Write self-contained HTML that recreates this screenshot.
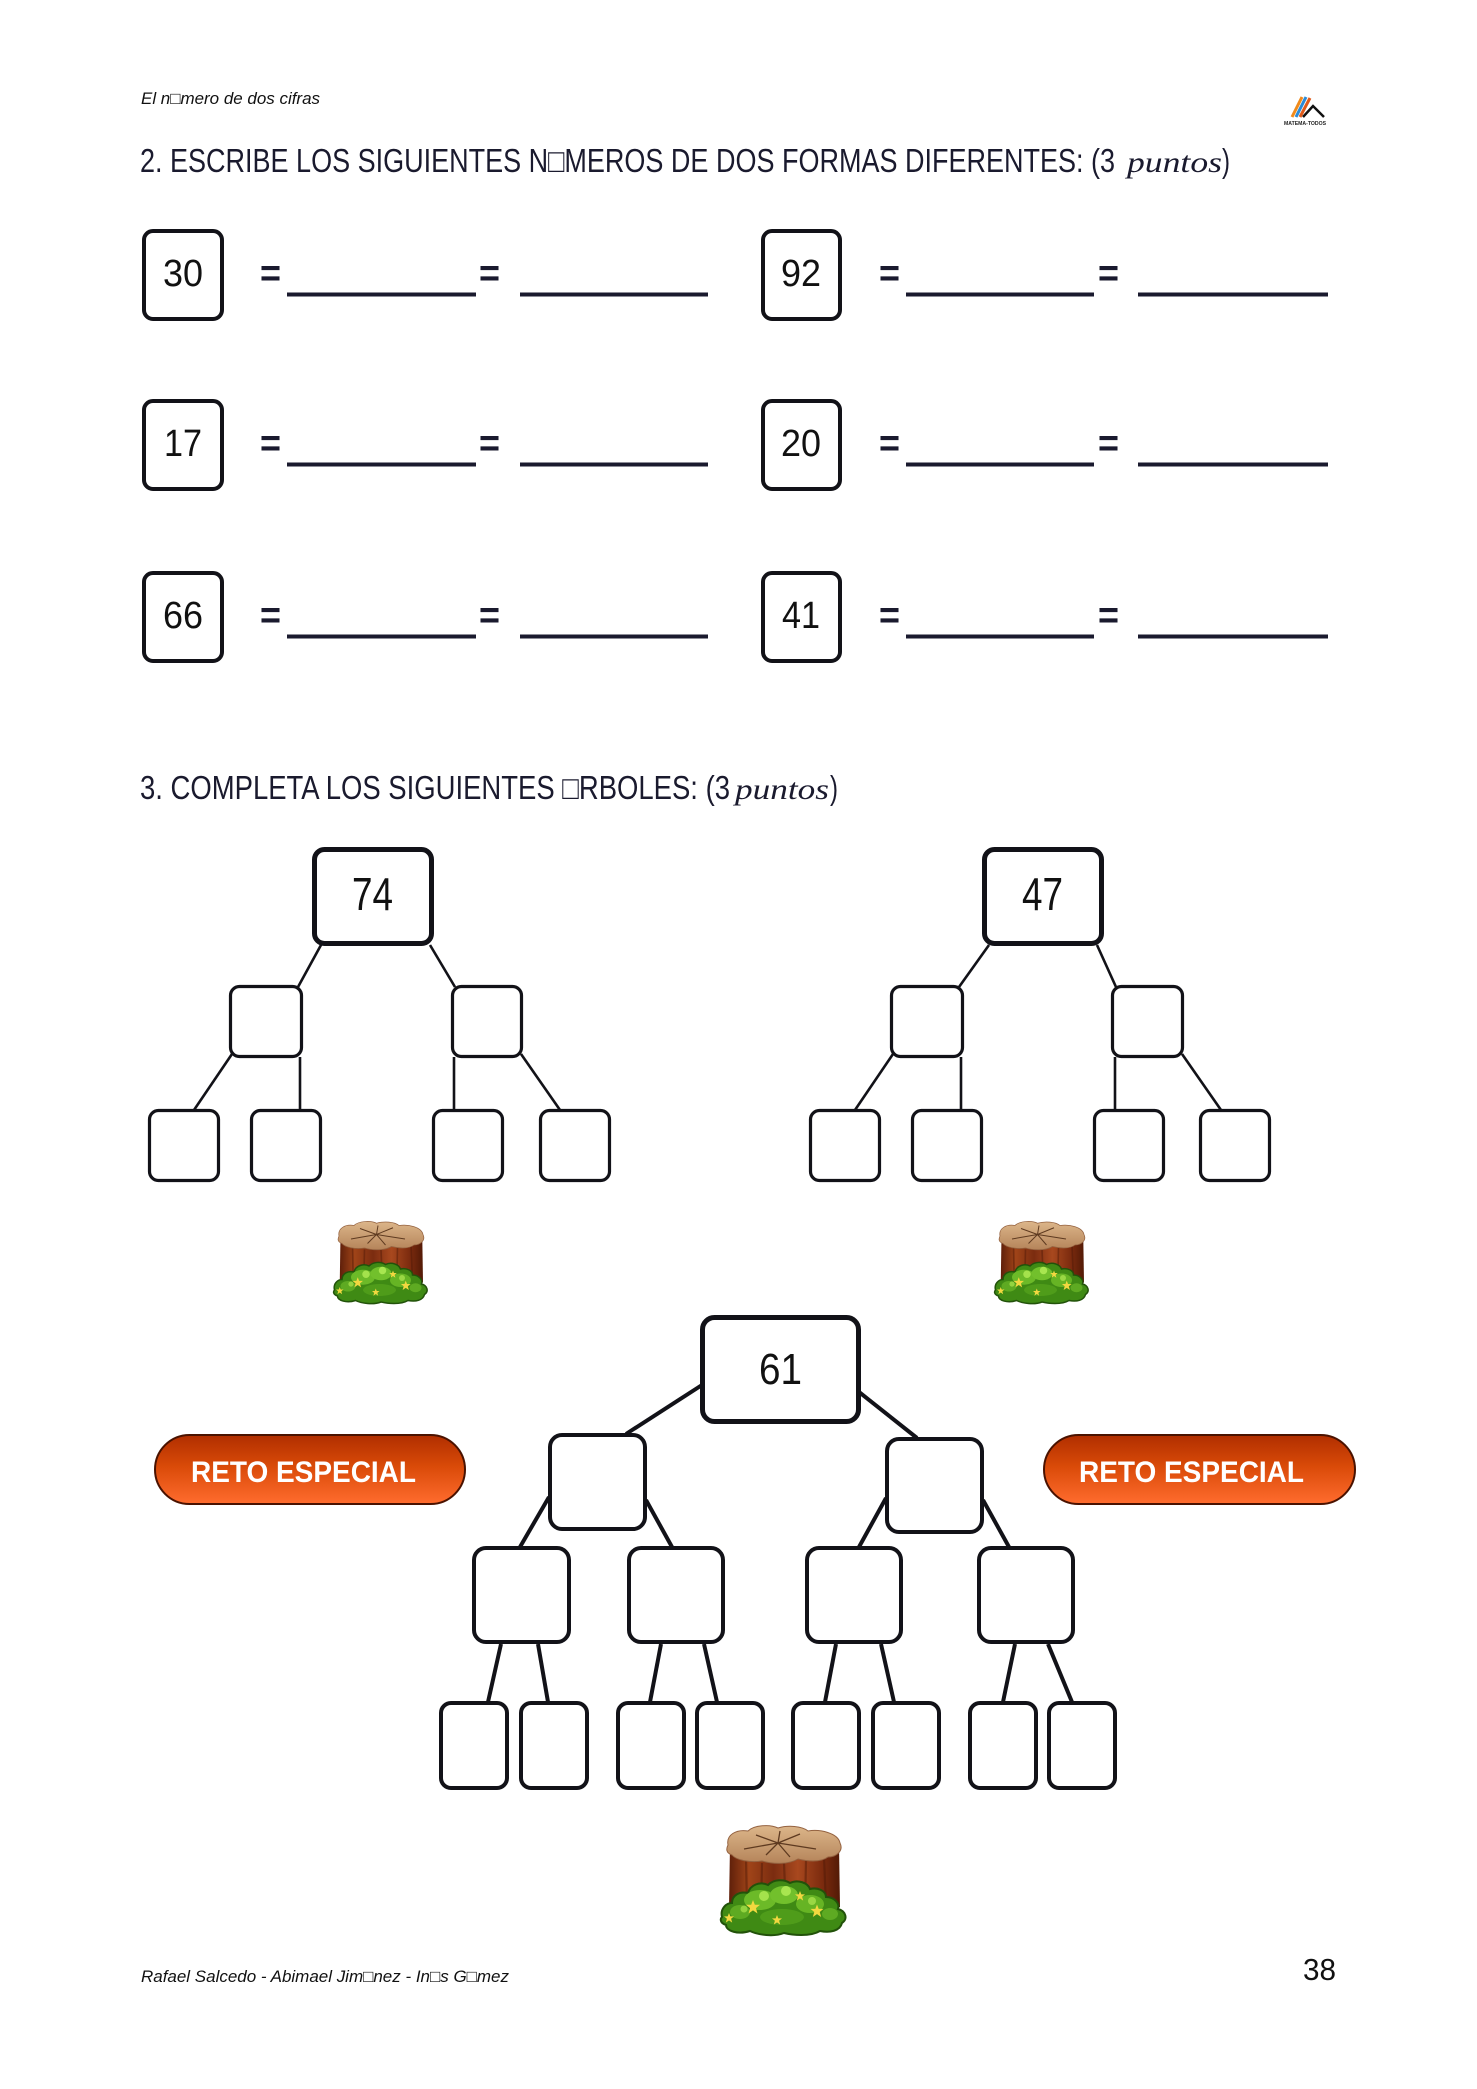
<!DOCTYPE html>
<html>
<head>
<meta charset="utf-8">
<style>
html,body{margin:0;padding:0;background:#fff;}
svg{display:block;}
text{font-family:"Liberation Sans","DejaVu Sans",sans-serif;}
</style>
</head>
<body>
<svg width="1477" height="2089" viewBox="0 0 1477 2089" xmlns="http://www.w3.org/2000/svg">
<defs>
  <linearGradient id="pill" x1="0" y1="0" x2="0" y2="1">
    <stop offset="0" stop-color="#b02e00"/>
    <stop offset="0.45" stop-color="#d94a08"/>
    <stop offset="1" stop-color="#ff6c2e"/>
  </linearGradient>
  <linearGradient id="bark" x1="0" y1="0" x2="1" y2="0">
    <stop offset="0" stop-color="#5e1f0a"/>
    <stop offset="0.18" stop-color="#a04418"/>
    <stop offset="0.4" stop-color="#7b2c10"/>
    <stop offset="0.62" stop-color="#a8481e"/>
    <stop offset="0.85" stop-color="#7a2a0e"/>
    <stop offset="1" stop-color="#521a06"/>
  </linearGradient>
  <linearGradient id="topg" x1="0" y1="0" x2="0" y2="1">
    <stop offset="0" stop-color="#dcb68a"/>
    <stop offset="1" stop-color="#b5845a"/>
  </linearGradient>
  <path id="flw" d="M0,-5 L1.3,-1.6 L5,-1.6 L2.1,0.8 L3.2,4.6 L0,2.4 L-3.2,4.6 L-2.1,0.8 L-5,-1.6 L-1.3,-1.6 Z" fill="#f2d840"/>
  <g id="stump">
    <path d="M10,20 L9,82 Q62,94 120,82 L119,20 Z" fill="url(#bark)"/>
    <path d="M26,34 L27,80 M42,38 L41,84 M64,38 L66,86 M86,36 L85,84 M104,32 L106,80" stroke="#4e1806" stroke-width="2.2" opacity="0.45" fill="none"/>
    <path d="M8,20 C6,10 16,4 28,6 C34,0 50,-1 58,3 C68,0 82,1 88,6 C100,4 118,8 120,18 C124,26 116,32 108,32 C100,38 86,36 78,34 C68,40 52,39 42,36 C30,38 16,35 12,30 C6,28 6,24 8,20 Z" fill="url(#topg)" stroke="#946240" stroke-width="1"/>
    <path d="M58,18 L36,10 M58,18 L80,9 M58,18 L46,30 M58,18 L96,24 M58,18 L24,24 M58,18 L70,32 M58,18 L60,6" stroke="#5e3a20" stroke-width="1.3" fill="none"/>
    <path d="M2,92 C0,84 6,78 12,78 C12,70 20,66 28,68 C30,60 40,56 48,60 C54,54 64,54 70,58 C78,54 88,58 90,64 C98,62 106,66 106,72 C114,72 120,78 118,84 C126,86 128,94 122,98 C120,106 110,108 100,106 C90,112 72,110 64,108 C54,112 38,110 30,106 C18,110 6,106 6,100 C0,98 0,94 2,92 Z" fill="#3f8a14" stroke="#22520a" stroke-width="2"/>
    <ellipse cx="40" cy="75" rx="16" ry="10" fill="#6cba28"/>
    <ellipse cx="64" cy="70" rx="14" ry="9" fill="#72c02c"/>
    <ellipse cx="90" cy="79" rx="14" ry="9" fill="#66b424"/>
    <ellipse cx="20" cy="87" rx="10" ry="7" fill="#5eaa22"/>
    <ellipse cx="110" cy="89" rx="8" ry="6" fill="#5eaa22"/>
    <ellipse cx="62" cy="92" rx="22" ry="8" fill="#4f9c1a"/>
    <circle cx="44" cy="71" r="5" fill="#a4e24c"/>
    <circle cx="66" cy="66" r="5" fill="#a8e650"/>
    <circle cx="92" cy="76" r="4" fill="#9ad844"/>
    <circle cx="24" cy="84" r="3.5" fill="#94d440"/>
    <use href="#flw" transform="translate(33,82) scale(1.4)"/>
    <use href="#flw" transform="translate(57,95)"/>
    <use href="#flw" transform="translate(97,86) scale(1.3)"/>
    <use href="#flw" transform="translate(9,93)"/>
    <use href="#flw" transform="translate(80,71)"/>
  </g>
</defs>

<rect width="1477" height="2089" fill="#ffffff"/>

<!-- Header -->
<text x="141" y="104" font-style="italic" font-size="17" fill="#111" textLength="179" lengthAdjust="spacingAndGlyphs">El n□mero de dos cifras</text>

<!-- Logo -->
<g transform="translate(1283,95)">
  <line x1="9" y1="22" x2="19" y2="2" stroke="#f08a1c" stroke-width="3"/>
  <line x1="13" y1="22" x2="23" y2="2" stroke="#2a8ad8" stroke-width="3"/>
  <line x1="17" y1="22" x2="27" y2="3" stroke="#e05a1a" stroke-width="3"/>
  <polyline points="20,22 30,11 41,22" stroke="#111" stroke-width="2.5" fill="none"/>
  <text x="1" y="30" font-size="5.5" font-weight="bold" fill="#222" textLength="42" lengthAdjust="spacingAndGlyphs">MATEMA-TODOS</text>
</g>

<!-- Heading 2 -->
<text x="140" y="172" font-size="33" fill="#1a1a2e" textLength="975" lengthAdjust="spacingAndGlyphs">2. ESCRIBE LOS SIGUIENTES N□MEROS DE DOS FORMAS DIFERENTES: (3</text>
<text x="1127" y="172" font-style="italic" font-size="30" fill="#1a1a2e" textLength="95" lengthAdjust="spacingAndGlyphs" style="font-family:'Liberation Serif',serif">puntos</text>
<text x="1222" y="172" font-size="33" fill="#1a1a2e" textLength="8" lengthAdjust="spacingAndGlyphs">)</text>

<!-- Rows -->
<g stroke="#121218" stroke-width="4" fill="none">
  <rect x="144" y="231" width="78" height="88" rx="9"/>
  <rect x="763" y="231" width="77" height="88" rx="9"/>
  <rect x="144" y="401" width="78" height="88" rx="9"/>
  <rect x="763" y="401" width="77" height="88" rx="9"/>
  <rect x="144" y="573" width="78" height="88" rx="9"/>
  <rect x="763" y="573" width="77" height="88" rx="9"/>
</g>
<g fill="#1a1a2e">
  <rect x="287" y="292.5" width="189" height="4"/>
  <rect x="520" y="292.5" width="188" height="4"/>
  <rect x="906" y="292.5" width="188" height="4"/>
  <rect x="1138" y="292.5" width="190" height="4"/>
  <rect x="287" y="462.5" width="189" height="4"/>
  <rect x="520" y="462.5" width="188" height="4"/>
  <rect x="906" y="462.5" width="188" height="4"/>
  <rect x="1138" y="462.5" width="190" height="4"/>
  <rect x="287" y="634.5" width="189" height="4"/>
  <rect x="520" y="634.5" width="188" height="4"/>
  <rect x="906" y="634.5" width="188" height="4"/>
  <rect x="1138" y="634.5" width="190" height="4"/>
</g>
<g font-size="38" font-weight="bold" fill="#1a1a2e">
  <text x="260" y="286" textLength="21" lengthAdjust="spacingAndGlyphs">=</text>
  <text x="479" y="286" textLength="21" lengthAdjust="spacingAndGlyphs">=</text>
  <text x="879" y="286" textLength="21" lengthAdjust="spacingAndGlyphs">=</text>
  <text x="1098" y="286" textLength="21" lengthAdjust="spacingAndGlyphs">=</text>
  <text x="260" y="456" textLength="21" lengthAdjust="spacingAndGlyphs">=</text>
  <text x="479" y="456" textLength="21" lengthAdjust="spacingAndGlyphs">=</text>
  <text x="879" y="456" textLength="21" lengthAdjust="spacingAndGlyphs">=</text>
  <text x="1098" y="456" textLength="21" lengthAdjust="spacingAndGlyphs">=</text>
  <text x="260" y="628" textLength="21" lengthAdjust="spacingAndGlyphs">=</text>
  <text x="479" y="628" textLength="21" lengthAdjust="spacingAndGlyphs">=</text>
  <text x="879" y="628" textLength="21" lengthAdjust="spacingAndGlyphs">=</text>
  <text x="1098" y="628" textLength="21" lengthAdjust="spacingAndGlyphs">=</text>
</g>
<g font-size="38" fill="#111">
  <text x="163" y="286" textLength="40" lengthAdjust="spacingAndGlyphs">30</text>
  <text x="781" y="286" textLength="40" lengthAdjust="spacingAndGlyphs">92</text>
  <text x="164" y="456" textLength="38" lengthAdjust="spacingAndGlyphs">17</text>
  <text x="781" y="456" textLength="40" lengthAdjust="spacingAndGlyphs">20</text>
  <text x="163" y="628" textLength="40" lengthAdjust="spacingAndGlyphs">66</text>
  <text x="782" y="628" textLength="38" lengthAdjust="spacingAndGlyphs">41</text>
</g>

<!-- Heading 3 -->
<text x="140" y="799" font-size="33" fill="#1a1a2e" textLength="590" lengthAdjust="spacingAndGlyphs">3. COMPLETA LOS SIGUIENTES □RBOLES: (3</text>
<text x="735" y="799" font-style="italic" font-size="30" fill="#1a1a2e" textLength="94" lengthAdjust="spacingAndGlyphs" style="font-family:'Liberation Serif',serif">puntos</text>
<text x="830" y="799" font-size="33" fill="#1a1a2e" textLength="8" lengthAdjust="spacingAndGlyphs">)</text>

<!-- Tree 1 -->
<g stroke="#121218" fill="none">
  <g stroke-width="2.6">
    <line x1="321" y1="945" x2="298" y2="987"/>
    <line x1="430" y1="945" x2="455" y2="987"/>
    <line x1="232" y1="1054" x2="194" y2="1110"/>
    <line x1="300" y1="1057" x2="300" y2="1110"/>
    <line x1="454" y1="1057" x2="454" y2="1110"/>
    <line x1="521" y1="1054" x2="560" y2="1110"/>
  </g>
  <rect x="314.5" y="849.5" width="117" height="94" rx="10" stroke-width="5"/>
  <g stroke-width="3.2">
    <rect x="230.5" y="986.5" width="71" height="70" rx="9"/>
    <rect x="452.5" y="986.5" width="69" height="70" rx="9"/>
    <rect x="149.5" y="1110.5" width="69" height="70" rx="9"/>
    <rect x="251.5" y="1110.5" width="69" height="70" rx="9"/>
    <rect x="433.5" y="1110.5" width="69" height="70" rx="9"/>
    <rect x="540.5" y="1110.5" width="69" height="70" rx="9"/>
  </g>
</g>
<text x="352" y="910" font-size="46" fill="#111" textLength="41" lengthAdjust="spacingAndGlyphs">74</text>

<!-- Tree 2 -->
<g stroke="#121218" fill="none">
  <g stroke-width="2.6">
    <line x1="989" y1="945" x2="959" y2="987"/>
    <line x1="1097" y1="945" x2="1116" y2="987"/>
    <line x1="893" y1="1054" x2="855" y2="1110"/>
    <line x1="961" y1="1057" x2="961" y2="1110"/>
    <line x1="1115" y1="1057" x2="1115" y2="1110"/>
    <line x1="1182" y1="1054" x2="1221" y2="1110"/>
  </g>
  <rect x="984.5" y="849.5" width="117" height="94" rx="10" stroke-width="5"/>
  <g stroke-width="3.2">
    <rect x="891.5" y="986.5" width="71" height="70" rx="9"/>
    <rect x="1112.5" y="986.5" width="70" height="70" rx="9"/>
    <rect x="810.5" y="1110.5" width="69" height="70" rx="9"/>
    <rect x="912.5" y="1110.5" width="69" height="70" rx="9"/>
    <rect x="1094.5" y="1110.5" width="69" height="70" rx="9"/>
    <rect x="1200.5" y="1110.5" width="69" height="70" rx="9"/>
  </g>
</g>
<text x="1022" y="910" font-size="46" fill="#111" textLength="41" lengthAdjust="spacingAndGlyphs">47</text>

<!-- Stumps -->
<use href="#stump" transform="translate(333,1221) scale(0.75)"/>
<use href="#stump" transform="translate(994,1221) scale(0.75)"/>
<use href="#stump" transform="translate(720,1825)"/>

<!-- RETO ESPECIAL pills -->
<rect x="155" y="1435" width="310" height="69" rx="34.5" fill="url(#pill)" stroke="#4a1200" stroke-width="2"/>
<text x="191" y="1482" font-size="30" font-weight="bold" fill="#ffffff" textLength="225" lengthAdjust="spacingAndGlyphs">RETO ESPECIAL</text>
<rect x="1044" y="1435" width="311" height="69" rx="34.5" fill="url(#pill)" stroke="#4a1200" stroke-width="2"/>
<text x="1079" y="1482" font-size="30" font-weight="bold" fill="#ffffff" textLength="225" lengthAdjust="spacingAndGlyphs">RETO ESPECIAL</text>

<!-- Big tree -->
<g stroke="#121218" fill="none">
  <g stroke-width="4">
    <line x1="702" y1="1385" x2="626" y2="1434"/>
    <line x1="859" y1="1392" x2="917" y2="1438"/>
    <line x1="549" y1="1497" x2="520" y2="1547"/>
    <line x1="646" y1="1500" x2="672" y2="1547"/>
    <line x1="886" y1="1498" x2="859" y2="1547"/>
    <line x1="983" y1="1500" x2="1009" y2="1547"/>
    <line x1="501" y1="1644" x2="488" y2="1702"/>
    <line x1="538" y1="1644" x2="548" y2="1702"/>
    <line x1="661" y1="1644" x2="650" y2="1702"/>
    <line x1="704" y1="1644" x2="717" y2="1702"/>
    <line x1="836" y1="1644" x2="825" y2="1702"/>
    <line x1="881" y1="1644" x2="894" y2="1702"/>
    <line x1="1015" y1="1644" x2="1003" y2="1702"/>
    <line x1="1048" y1="1644" x2="1072" y2="1702"/>
  </g>
  <rect x="702.5" y="1317.5" width="156" height="104" rx="12" stroke-width="5"/>
  <g stroke-width="4">
    <rect x="550" y="1435" width="95" height="94" rx="12"/>
    <rect x="887" y="1439" width="95" height="93" rx="12"/>
    <rect x="474" y="1548" width="95" height="94" rx="12"/>
    <rect x="629" y="1548" width="94" height="94" rx="12"/>
    <rect x="807" y="1548" width="94" height="94" rx="12"/>
    <rect x="979" y="1548" width="94" height="94" rx="12"/>
    <rect x="441" y="1703" width="66" height="85" rx="10"/>
    <rect x="521" y="1703" width="66" height="85" rx="10"/>
    <rect x="618" y="1703" width="66" height="85" rx="10"/>
    <rect x="697" y="1703" width="66" height="85" rx="10"/>
    <rect x="793" y="1703" width="66" height="85" rx="10"/>
    <rect x="873" y="1703" width="66" height="85" rx="10"/>
    <rect x="970" y="1703" width="66" height="85" rx="10"/>
    <rect x="1049" y="1703" width="66" height="85" rx="10"/>
  </g>
</g>
<text x="759" y="1384" font-size="44" fill="#111" textLength="43" lengthAdjust="spacingAndGlyphs">61</text>

<!-- Footer -->
<text x="141" y="1982" font-style="italic" font-size="17" fill="#111" textLength="368" lengthAdjust="spacingAndGlyphs">Rafael Salcedo - Abimael Jim□nez - In□s G□mez</text>
<text x="1303" y="1980" font-size="31" fill="#111" textLength="33" lengthAdjust="spacingAndGlyphs">38</text>
</svg>
</body>
</html>
